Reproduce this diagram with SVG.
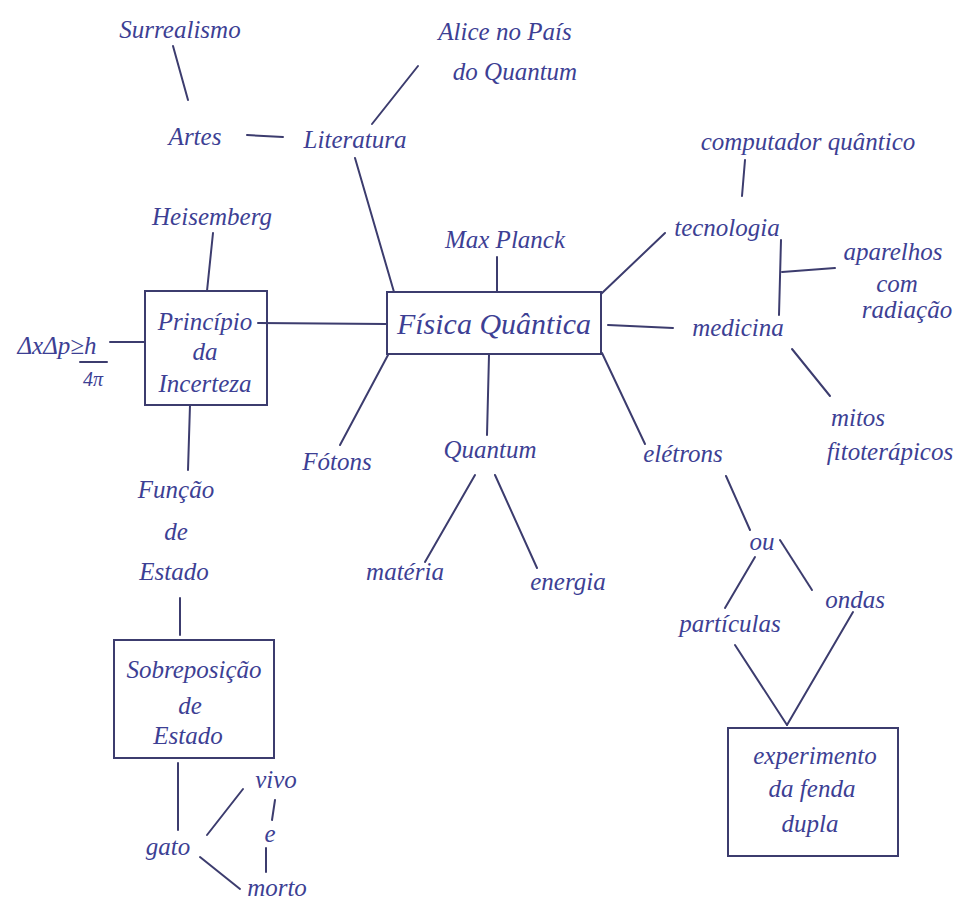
<svg xmlns="http://www.w3.org/2000/svg" width="963" height="902" viewBox="0 0 963 902">
  <style>
    .t { font-family: "Liberation Serif", "DejaVu Serif", serif; font-style: italic; fill: #3d3f94; font-size: 25px; text-anchor: middle; }
    .big { font-size: 30px; }
    .sm { font-size: 20px; }
    .ln { stroke: #3c3c6e; stroke-width: 2; fill: none; stroke-linecap: round; }
    .box { stroke: #3c3c6e; stroke-width: 2; fill: none; }
  </style>
  <rect width="963" height="902" fill="#ffffff"/>

  <!-- connectors -->
  <g id="connectors">
    <line class="ln" x1="173" y1="46" x2="188" y2="100"/>
    <line class="ln" x1="247" y1="135" x2="283" y2="137"/>
    <line class="ln" x1="372" y1="124" x2="418" y2="66"/>
    <line class="ln" x1="355" y1="158" x2="394" y2="292"/>
    <line class="ln" x1="213" y1="233" x2="207" y2="291"/>
    <line class="ln" x1="258" y1="323" x2="386" y2="324"/>
    <line class="ln" x1="110" y1="342" x2="145" y2="342"/>
    <line class="ln" x1="80" y1="362" x2="107" y2="362"/>
    <line class="ln" x1="190" y1="405" x2="188" y2="470"/>
    <line class="ln" x1="180" y1="598" x2="180" y2="635"/>
    <line class="ln" x1="178" y1="763" x2="178" y2="830"/>
    <line class="ln" x1="207" y1="835" x2="243" y2="789"/>
    <line class="ln" x1="275" y1="800" x2="272" y2="820"/>
    <line class="ln" x1="266" y1="848" x2="266" y2="872"/>
    <line class="ln" x1="200" y1="857" x2="240" y2="889"/>
    <line class="ln" x1="497" y1="257" x2="497" y2="292"/>
    <line class="ln" x1="601" y1="294" x2="665" y2="233"/>
    <line class="ln" x1="745" y1="160" x2="742" y2="196"/>
    <line class="ln" x1="781" y1="240" x2="779" y2="315"/>
    <line class="ln" x1="782" y1="272" x2="835" y2="268"/>
    <line class="ln" x1="608" y1="325" x2="673" y2="328"/>
    <line class="ln" x1="792" y1="349" x2="830" y2="396"/>
    <line class="ln" x1="602" y1="353" x2="645" y2="444"/>
    <line class="ln" x1="726" y1="476" x2="750" y2="530"/>
    <line class="ln" x1="755" y1="557" x2="725" y2="608"/>
    <line class="ln" x1="780" y1="540" x2="812" y2="590"/>
    <line class="ln" x1="735" y1="645" x2="787" y2="725"/>
    <line class="ln" x1="853" y1="612" x2="787" y2="725"/>
    <line class="ln" x1="489" y1="355" x2="487" y2="435"/>
    <line class="ln" x1="475" y1="475" x2="425" y2="562"/>
    <line class="ln" x1="495" y1="475" x2="537" y2="568"/>
    <line class="ln" x1="388" y1="355" x2="340" y2="445"/>
  </g>

  <g id="surrealismo"><text class="t" x="180" y="38">Surrealismo</text></g>
  <g id="artes"><text class="t" x="195" y="145">Artes</text></g>
  <g id="literatura"><text class="t" x="355" y="148">Literatura</text></g>
  <g id="alice">
    <text class="t" x="505" y="40">Alice no País</text>
    <text class="t" x="515" y="80">do Quantum</text>
  </g>
  <g id="heisemberg"><text class="t" x="212" y="225">Heisemberg</text></g>
  <g id="principio">
    <rect class="box" x="145" y="291" width="122" height="114"/>
    <text class="t" x="205" y="330">Princípio</text>
    <text class="t" x="205" y="360">da</text>
    <text class="t" x="205" y="392">Incerteza</text>
  </g>
  <g id="formula">
    <text class="t" x="57" y="354">ΔxΔp≥h</text>
    <text class="t sm" x="93" y="386">4π</text>
  </g>
  <g id="funcao">
    <text class="t" x="176" y="498">Função</text>
    <text class="t" x="176" y="540">de</text>
    <text class="t" x="174" y="580">Estado</text>
  </g>
  <g id="sobreposicao">
    <rect class="box" x="114" y="640" width="160" height="118"/>
    <text class="t" x="194" y="678">Sobreposição</text>
    <text class="t" x="190" y="714">de</text>
    <text class="t" x="188" y="744">Estado</text>
  </g>
  <g id="gato"><text class="t" x="168" y="855">gato</text></g>
  <g id="vivo"><text class="t" x="276" y="788">vivo</text></g>
  <g id="e"><text class="t" x="270" y="842">e</text></g>
  <g id="morto"><text class="t" x="277" y="896">morto</text></g>

  <g id="fisica">
    <rect class="box" x="387" y="292" width="214" height="62"/>
    <text class="t big" x="494" y="334">Física Quântica</text>
  </g>
  <g id="planck"><text class="t" x="505" y="248">Max Planck</text></g>
  <g id="tecnologia"><text class="t" x="727" y="236">tecnologia</text></g>
  <g id="computador"><text class="t" x="808" y="150">computador quântico</text></g>
  <g id="aparelhos">
    <text class="t" x="893" y="260">aparelhos</text>
    <text class="t" x="897" y="292">com</text>
    <text class="t" x="907" y="318">radiação</text>
  </g>
  <g id="medicina"><text class="t" x="738" y="336">medicina</text></g>
  <g id="mitos">
    <text class="t" x="858" y="426">mitos</text>
    <text class="t" x="890" y="460">fitoterápicos</text>
  </g>
  <g id="eletrons"><text class="t" x="683" y="462">elétrons</text></g>
  <g id="ou"><text class="t" x="762" y="550">ou</text></g>
  <g id="particulas"><text class="t" x="730" y="632">partículas</text></g>
  <g id="ondas"><text class="t" x="855" y="608">ondas</text></g>
  <g id="experimento">
    <rect class="box" x="728" y="728" width="170" height="128"/>
    <text class="t" x="815" y="764">experimento</text>
    <text class="t" x="812" y="797">da fenda</text>
    <text class="t" x="810" y="832">dupla</text>
  </g>
  <g id="quantum"><text class="t" x="490" y="458">Quantum</text></g>
  <g id="materia"><text class="t" x="405" y="580">matéria</text></g>
  <g id="energia"><text class="t" x="568" y="590">energia</text></g>
  <g id="fotons"><text class="t" x="337" y="470">Fótons</text></g>
</svg>
